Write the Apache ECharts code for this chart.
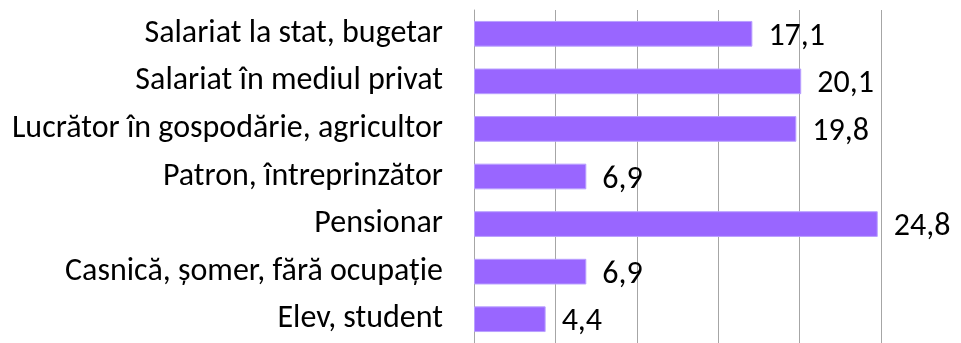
<!DOCTYPE html>
<html>
<head>
<meta charset="utf-8">
<script src="https://cdn.jsdelivr.net/npm/echarts@6/dist/echarts.min.js"></script>
<style>
  html, body { margin: 0; padding: 0; background: #fff; }
  #chart { width: 961px; height: 343px; }
</style>
</head>
<body>
<div id="chart"></div>
<script>
// Occupational status shares, percent
const categories = [
  'Salariat la stat, bugetar',
  'Salariat în mediul privat',
  'Lucrător în gospodărie, agricultor',
  'Patron, întreprinzător',
  'Pensionar',
  'Casnică, șomer, fără ocupație',
  'Elev, student'
];
const values = [17.1, 20.1, 19.8, 6.9, 24.8, 6.9, 4.4];
const axisTicks = [0, 5, 10, 15, 20, 25];

const FONT = 'Carlito, "Open Sans", sans-serif';

const chart = echarts.init(document.getElementById('chart'), null, { renderer: 'canvas' });
chart.setOption({
  backgroundColor: '#ffffff',
  animation: false,
  grid: { left: 474, top: 10, width: 407, height: 337, containLabel: false },
  xAxis: {
    type: 'value',
    min: axisTicks[0],
    max: axisTicks[axisTicks.length - 1],
    interval: axisTicks[1] - axisTicks[0],
    axisLabel: { show: false },
    axisLine: { show: false },
    axisTick: { show: false },
    splitLine: { show: true, lineStyle: { color: '#a6a6a6', width: 1 } }
  },
  yAxis: {
    type: 'category',
    data: categories,
    inverse: true,
    axisLine: { show: true, lineStyle: { color: '#a6a6a6', width: 1 } },
    axisTick: { show: false },
    axisLabel: {
      color: '#000',
      fontFamily: FONT,
      fontSize: 32,
      margin: 31
    }
  },
  series: [{
    type: 'bar',
    data: values,
    barCategoryGap: '46%',
    itemStyle: { color: '#9966ff', borderColor: '#b9a0ff', borderWidth: 1 },
    label: {
      show: true,
      position: 'right',
      distance: 16,
      color: '#000',
      fontFamily: FONT,
      fontSize: 32,
      offset: [0, 3],
      formatter: p => String(p.value).replace('.', ',')
    }
  }]
});
</script>
</body>
</html>
